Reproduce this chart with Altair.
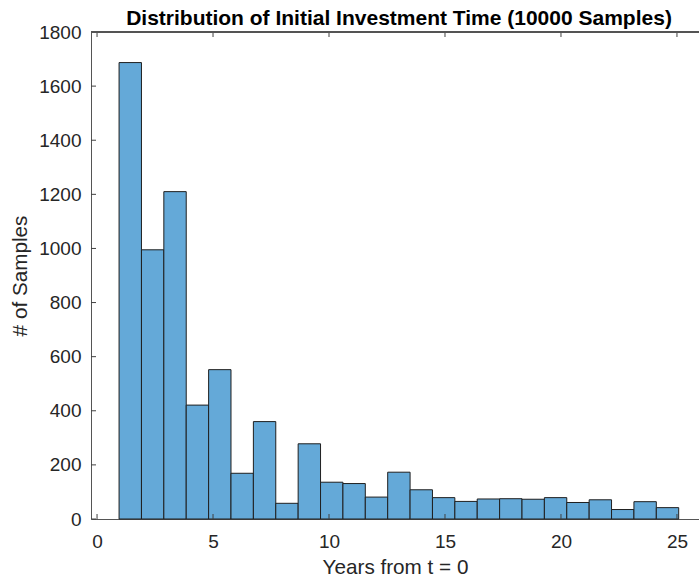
import altair as alt
import pandas as pd

# Histogram counts (25 bins)
counts = [1687, 995, 1210, 421, 552, 169, 360, 58, 278, 136, 131, 81, 173,
          108, 79, 65, 74, 75, 73, 79, 61, 71, 35, 64, 42]
bin_start = 0.95
bin_width = 0.965
x_ticks = [0, 5, 10, 15, 20, 25]
y_ticks = [0, 200, 400, 600, 800, 1000, 1200, 1400, 1600, 1800]

W, H = 608, 487
FONT = "Liberation Sans"
TXT = "#262626"
FRAME = "#555555"

lo = [bin_start + i * bin_width for i in range(len(counts))]
hi = [v + bin_width for v in lo]
df = pd.DataFrame({"x0": lo, "x1": hi, "count": counts, "base": [0] * len(counts)})

xscale = alt.Scale(domain=[-0.26, 25.95], nice=False, zero=False)
yscale = alt.Scale(domain=[0, 1800], nice=False)

xaxis = alt.Axis(values=x_ticks, title="Years from t = 0", labelPadding=13,
                 titlePadding=6, format="d")
yaxis = alt.Axis(values=y_ticks, title="# of Samples", labelPadding=10,
                 titlePadding=8, format="d")

bars = alt.Chart(df).mark_rect(fill="#64a9d8", stroke="#1f1f1f", strokeWidth=1).encode(
    x=alt.X("x0:Q", scale=xscale, axis=xaxis),
    x2="x1",
    y=alt.Y("count:Q", scale=yscale, axis=yaxis),
    y2="base",
)

xt = pd.DataFrame({"v": x_ticks})
yt = pd.DataFrame({"v": y_ticks})
tick_color = "#404040"
bottom_ticks = alt.Chart(xt).mark_rule(color=tick_color).encode(
    x=alt.X("v:Q", scale=xscale, axis=xaxis), y=alt.value(H), y2=alt.value(H - 5))
top_ticks = alt.Chart(xt).mark_rule(color=tick_color).encode(
    x=alt.X("v:Q", scale=xscale, axis=xaxis), y=alt.value(0), y2=alt.value(5))
left_ticks = alt.Chart(yt).mark_rule(color=tick_color).encode(
    y=alt.Y("v:Q", scale=yscale, axis=yaxis), x=alt.value(0), x2=alt.value(5))
top_line = alt.Chart(yt).mark_rule(color=FRAME).encode(
    x=alt.value(0), x2=alt.value(W), y=alt.value(0))

chart = alt.layer(bars, bottom_ticks, top_ticks, left_ticks, top_line).properties(
    width=W, height=H,
    autosize=alt.AutoSizeParams(type="none"),
    padding={"left": 91, "top": 32, "right": 0, "bottom": 61},
    title=alt.TitleParams("Distribution of Initial Investment Time (10000 Samples)",
                          font=FONT, fontSize=21, fontWeight="bold", color="#000000",
                          anchor="middle", offset=-6, dx=4),
).configure_view(stroke=None).configure_axis(
    domain=True, domainColor=FRAME, domainWidth=1, ticks=False, grid=False,
    labelFont=FONT, labelFontSize=19, labelColor=TXT,
    titleFont=FONT, titleFontSize=20.7, titleFontWeight="normal", titleColor=TXT,
)

chart.save("out.html", embed_options={"renderer": "svg", "actions": False})
